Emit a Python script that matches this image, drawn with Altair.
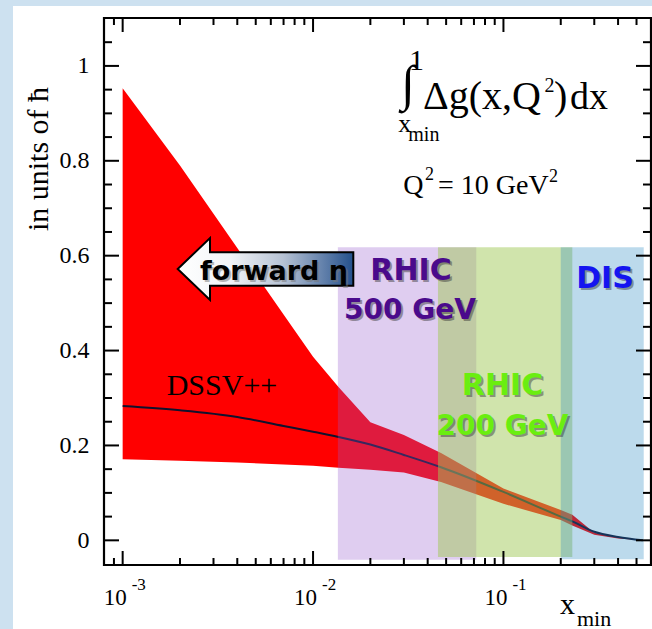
import altair as alt
import pandas as pd

# ---- data -------------------------------------------------------------
# x_min grid, uncertainty band edges and the central DSSV++ curve
x_min = [0.001, 0.002, 0.004, 0.007, 0.01, 0.0136, 0.02, 0.03, 0.047,
         0.1, 0.2, 0.23, 0.3, 0.4, 0.54]
band_upper = [0.953, 0.79, 0.616, 0.476, 0.387, 0.323, 0.249, 0.222, 0.184,
              0.109, 0.064, 0.054, 0.016, 0.007, 0.0]
band_lower = [0.171, 0.168, 0.164, 0.160, 0.157, 0.153, 0.149, 0.143, 0.123,
              0.077, 0.043, 0.031, 0.012, 0.004, 0.0]
dssv_central = [0.283, 0.274, 0.260, 0.241, 0.229, 0.218, 0.202, 0.180, 0.154,
                0.102, 0.050, 0.040, 0.018, 0.007, 0.0]

# kinematic coverage of the experiments
region_names = ["RHIC 500 GeV", "RHIC 200 GeV", "DIS"]
region_x_lo = [0.0135, 0.0453, 0.200]
region_x_hi = [0.072, 0.230, 0.5455]
region_y_lo = [-0.041, -0.035, -0.040]
region_y_hi = [0.618, 0.618, 0.618]
region_colors = ["#9658cc", "#9fc856", "#2084c0"]
region_opacity = [0.30, 0.49, 0.30]

# axis ticks
y_major = [0, 0.2, 0.4, 0.6, 0.8, 1.0]
y_minor = [0.05, 0.1, 0.15, 0.25, 0.3, 0.35, 0.45, 0.5, 0.55, 0.65, 0.7,
           0.75, 0.85, 0.9, 0.95, 1.05]
x_major = [0.001, 0.01, 0.1]
x_exponents = ["-3", "-2", "-1"]
x_minor = [0.0009, 0.002, 0.003, 0.004, 0.005, 0.006, 0.007, 0.008, 0.009,
           0.02, 0.03, 0.04, 0.05, 0.06, 0.07, 0.08, 0.09,
           0.2, 0.3, 0.4, 0.5]

# ---- layout -----------------------------------------------------------
W, H = 547, 547
SERIF = "Liberation Serif"
SANS = "DejaVu Sans"

xs = alt.Scale(type="log", domain=[0.000798, 0.5957], nice=False)
ys = alt.Scale(domain=[-0.052, 1.101], nice=False, zero=False)
y_axis = alt.Axis(values=y_major, format="~g", ticks=False, tickSize=0,
                  domain=False, grid=False, labelFont=SERIF, labelFontSize=24,
                  labelPadding=15, labelColor="black", title=None, zindex=2)

curve = pd.DataFrame({"x": x_min, "upper": band_upper, "lower": band_lower,
                      "central": dssv_central})
regions = pd.DataFrame({"name": region_names, "x0": region_x_lo,
                        "x1": region_x_hi, "y0": region_y_lo, "y1": region_y_hi})

one = pd.DataFrame({"k": [0]})

panel = alt.Chart(one).mark_rect(color="white").encode(
    x=alt.value(-91), x2=alt.value(W + 10), y=alt.value(-12), y2=alt.value(H + 70))

band = alt.Chart(curve).mark_area(color="#ff0000", opacity=1).encode(
    x=alt.X("x:Q", scale=xs, axis=None),
    y=alt.Y("upper:Q", scale=ys, axis=y_axis),
    y2="lower:Q")

line = alt.Chart(curve).mark_line(color="#10122e", strokeWidth=2,
                                  interpolate="monotone").encode(
    x=alt.X("x:Q", scale=xs, axis=None),
    y=alt.Y("central:Q", scale=ys, axis=y_axis))

region_layers = []
for i in range(len(region_names)):
    region_layers.append(
        alt.Chart(regions.iloc[[i]]).mark_rect(
            color=region_colors[i], opacity=region_opacity[i]).encode(
            x=alt.X("x0:Q", scale=xs, axis=None), x2="x1:Q",
            y=alt.Y("y0:Q", scale=ys, axis=y_axis), y2="y1:Q"))

frame = alt.Chart(one).mark_rect(filled=False, stroke="black", strokeWidth=2.2).encode(
    x=alt.value(0), x2=alt.value(W), y=alt.value(0), y2=alt.value(H))


def y_ticks(values, length):
    df = pd.DataFrame({"v": values})
    left = alt.Chart(df).mark_rule(color="black", strokeWidth=2).encode(
        y=alt.Y("v:Q", scale=ys, axis=y_axis), x=alt.value(0), x2=alt.value(length))
    right = alt.Chart(df).mark_rule(color="black", strokeWidth=2).encode(
        y=alt.Y("v:Q", scale=ys, axis=y_axis), x=alt.value(W - length), x2=alt.value(W))
    return [left, right]


def x_ticks(values, length):
    df = pd.DataFrame({"v": values})
    bottom = alt.Chart(df).mark_rule(color="black", strokeWidth=2).encode(
        x=alt.X("v:Q", scale=xs, axis=None), y=alt.value(H), y2=alt.value(H - length))
    top = alt.Chart(df).mark_rule(color="black", strokeWidth=2).encode(
        x=alt.X("v:Q", scale=xs, axis=None), y=alt.value(0), y2=alt.value(length))
    return [bottom, top]


ticks = y_ticks(y_major, 15) + y_ticks(y_minor, 8) + x_ticks(x_major, 14) + x_ticks(x_minor, 7)

decades = pd.DataFrame({"v": x_major, "e": x_exponents, "b": ["10"] * 3})
x_base = alt.Chart(decades).mark_text(font=SERIF, fontSize=23, align="right",
                                      baseline="alphabetic", dx=4, color="black").encode(
    x=alt.X("v:Q", scale=xs, axis=None), y=alt.value(H + 40), text="b:N")
x_exp = alt.Chart(decades).mark_text(font=SERIF, fontSize=17, align="left",
                                     baseline="alphabetic", dx=9, color="black").encode(
    x=alt.X("v:Q", scale=xs, axis=None), y=alt.value(H + 25), text="e:N")


def label(text, px, py, size, font=SERIF, color="black", align="left",
          weight="normal", angle=0, opacity=1.0):
    return alt.Chart(pd.DataFrame({"t": [text]})).mark_text(
        font=font, fontSize=size, color=color, align=align, baseline="alphabetic",
        fontWeight=weight, angle=angle, opacity=opacity).encode(
        x=alt.value(px), y=alt.value(py), text="t:N")


def shadowed(text, px, py, size, color):
    return [label(text, px + 2, py + 2, size, SANS, "#333333", "center", "bold", opacity=0.45),
            label(text, px, py, size, SANS, color, "center", "bold")]


# arrow pointing towards small x
arrow_path = ("M -1 0 L -0.632 -0.353 L -0.632 -0.19 L 1 -0.19 L 1 0.19 "
              "L -0.632 0.19 L -0.632 0.353 Z")
arrow_fill = alt.Gradient(
    gradient="linear", x1=0, y1=0, x2=1, y2=0,
    stops=[alt.GradientStop(color="#ffffff", offset=0),
           alt.GradientStop(color="#f2f4f7", offset=0.3),
           alt.GradientStop(color="#b6c2d4", offset=0.6),
           alt.GradientStop(color="#24508c", offset=1)])
arrow = alt.Chart(one).mark_point(shape=arrow_path, size=30835, filled=True,
                                  fill=arrow_fill, stroke="black", strokeWidth=2,
                                  opacity=1).encode(x=alt.value(161.5), y=alt.value(251))

texts = []
texts += [label("forward η", 172, 264, 27, SANS, "#777777", "center", "bold", opacity=0.5),
          label("forward η", 170, 262, 27, SANS, "black", "center", "bold")]
texts += shadowed("RHIC", 307, 262, 30, "#4a0a8c")
texts += shadowed("500 GeV", 306, 301, 28, "#4a0a8c")
texts += shadowed("RHIC", 398.5, 377, 30, "#6aee10")
texts += shadowed("200 GeV", 398.5, 417, 28, "#6aee10")
texts += shadowed("DIS", 501, 270, 30, "#1414f0")
texts += [label("DSSV++", 62.7, 377, 30)]

# integral annotation
texts += [
    label("∫", 297, 82, 50),
    label("1", 305, 52, 30),
    label("Δg(x,Q", 319, 91, 40),
    label("2", 440.5, 73.7, 20),
    label(")", 450, 91, 40),
    label("dx", 466, 91, 38),
    label("x", 294.3, 113.7, 26),
    label("min", 304.3, 122.7, 20),
    label("Q", 299.3, 176, 28),
    label("2", 321, 162, 18),
    label("= 10 GeV", 334, 176, 28),
    label("2", 445, 163.7, 18),
]

# axis titles
texts += [
    label("x", 456, 596, 30),
    label("min", 473, 608, 22),
    label("in units of ħ", -56, 141, 30, align="center", angle=270),
]

chart = alt.layer(
    panel, band, line, *region_layers, frame, *ticks, x_base, x_exp, arrow, *texts
).properties(
    width=W, height=H,
    padding={"left": 104, "top": 18, "right": 1, "bottom": 64},
    autosize=alt.AutoSizeParams(type="none"),
    background="#cde1f0",
).configure_view(stroke=None)

chart.save("out.html", embed_options={"renderer": "svg", "actions": False})
